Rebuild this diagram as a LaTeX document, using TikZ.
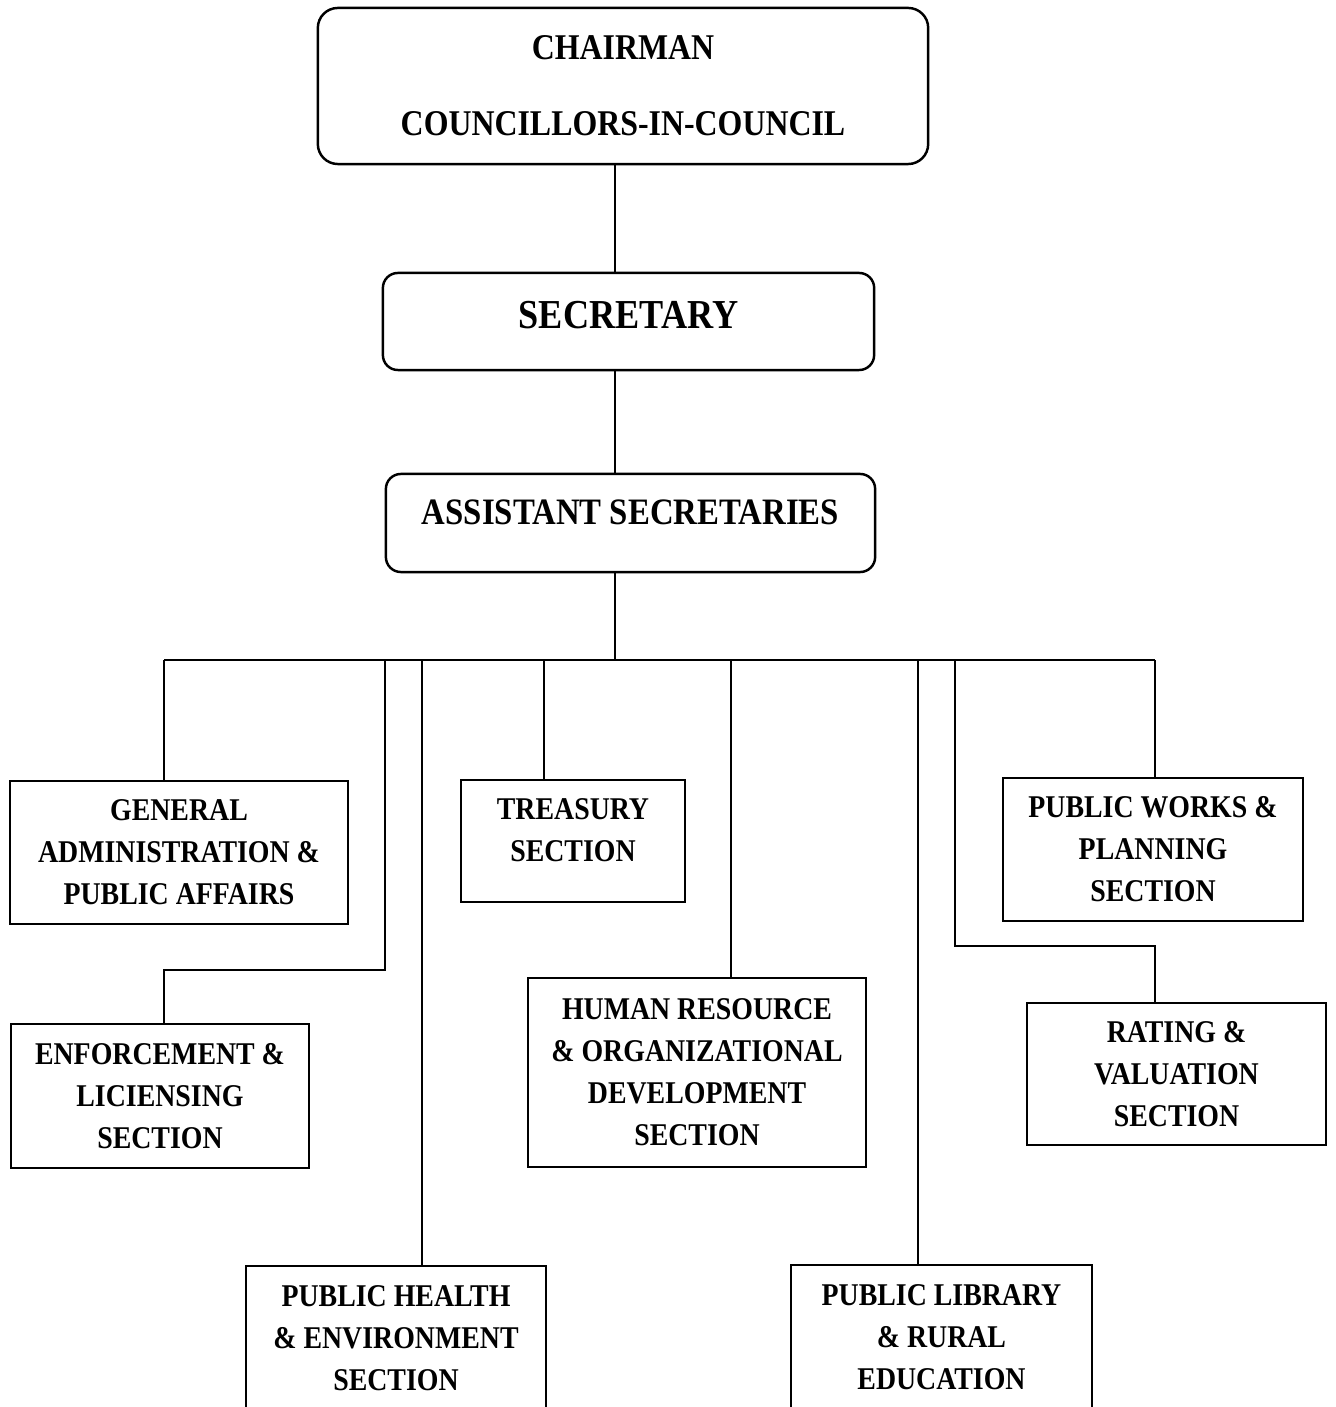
\documentclass[tikz,border=0pt]{standalone}
\usepackage{fontspec}
\setmainfont{Liberation Serif}[FakeStretch=0.88]
\begin{document}
\begin{tikzpicture}[x=0.01cm, y=-0.01cm, line width=0.7pt,
    head/.style={draw, rounded corners=0.15cm, inner sep=0pt, align=center},
    unit/.style={draw, inner sep=0pt, align=center, minimum height=1.43cm,
        font=\bfseries\fontsize{9}{11.95}\selectfont}]
    \useasboundingbox (0,0) rectangle (1335,1407);
    \clip (0,0) rectangle (1335,1407);

    % top of the chart
    \node[head, rounded corners=0.2cm, minimum width=6.1cm, minimum height=1.56cm,
        font=\bfseries\fontsize{10.3}{12}\selectfont] (chair) at (623,86)
        {CHAIRMAN\\[0.34cm]COUNCILLORS-IN-COUNCIL};
    \node[head, minimum width=4.91cm, minimum height=0.97cm, text height=7.8pt, text depth=4pt,
        font=\bfseries\fontsize{11.7}{14}\selectfont] (sec) at (628.5,321.5) {SECRETARY};
    \node[head, minimum width=4.89cm, minimum height=0.98cm, text height=7pt, text depth=6.2pt,
        font=\bfseries\fontsize{10.6}{12}\selectfont] (asst) at (630.5,523) {ASSISTANT SECRETARIES};

    % sections
    \node[unit, minimum width=3.38cm] (gen) at (179,852.5) {GENERAL\\ADMINISTRATION \&\\PUBLIC AFFAIRS};
    \node[unit, minimum width=2.24cm, minimum height=1.22cm] (tre) at (573,841) {TREASURY\\SECTION\\[-0.2cm]\mbox{}};
    \node[unit, minimum width=3.00cm] (pw) at (1153,849.5) {PUBLIC WORKS \&\\PLANNING\\SECTION};
    \node[unit, minimum width=2.98cm, minimum height=1.44cm] (enf) at (160,1096) {ENFORCEMENT \&\\LICIENSING\\SECTION};
    \node[unit, minimum width=3.38cm, minimum height=1.89cm] (hr) at (697,1072.5) {HUMAN RESOURCE\\\& ORGANIZATIONAL\\DEVELOPMENT\\SECTION};
    \node[unit, minimum width=2.99cm, minimum height=1.42cm] (rat) at (1176.5,1074) {RATING \&\\VALUATION\\SECTION};
    \node[unit, minimum width=3.00cm, minimum height=1.44cm] (ph) at (396,1338) {PUBLIC HEALTH\\\& ENVIRONMENT\\SECTION};
    \node[unit, minimum width=3.01cm, minimum height=1.44cm] (lib) at (941.5,1337) {PUBLIC LIBRARY\\\& RURAL\\EDUCATION};

    % spine
    \coordinate (spine) at (615,660);
    \draw (chair.south -| spine) -- (sec.north -| spine);
    \draw (sec.south -| spine) -- (asst.north -| spine);
    \draw (asst.south -| spine) -- (spine);

    % bus and taps
    \coordinate (busL) at (164,660);
    \coordinate (busR) at (1155,660);
    \draw (busL) -- (busR);
    \draw (busL) -- (gen.north -| busL);
    \draw (busR) -- (pw.north -| busR);

    \coordinate (tapEnf) at (385,660);
    \coordinate (bendEnf) at (164,970);
    \draw (tapEnf) |- (bendEnf) -- (enf.north -| bendEnf);

    \coordinate (tapPh) at (422,660);
    \draw (tapPh) -- (ph.north -| tapPh);

    \coordinate (tapTre) at (544,660);
    \draw (tapTre) -- (tre.north -| tapTre);

    \coordinate (tapHr) at (731,660);
    \draw (tapHr) -- (hr.north -| tapHr);

    \coordinate (tapLib) at (918,660);
    \draw (tapLib) -- (lib.north -| tapLib);

    \coordinate (tapRat) at (955,660);
    \coordinate (bendRat) at (1155,946);
    \draw (tapRat) |- (bendRat) -- (rat.north -| bendRat);
\end{tikzpicture}
\end{document}
